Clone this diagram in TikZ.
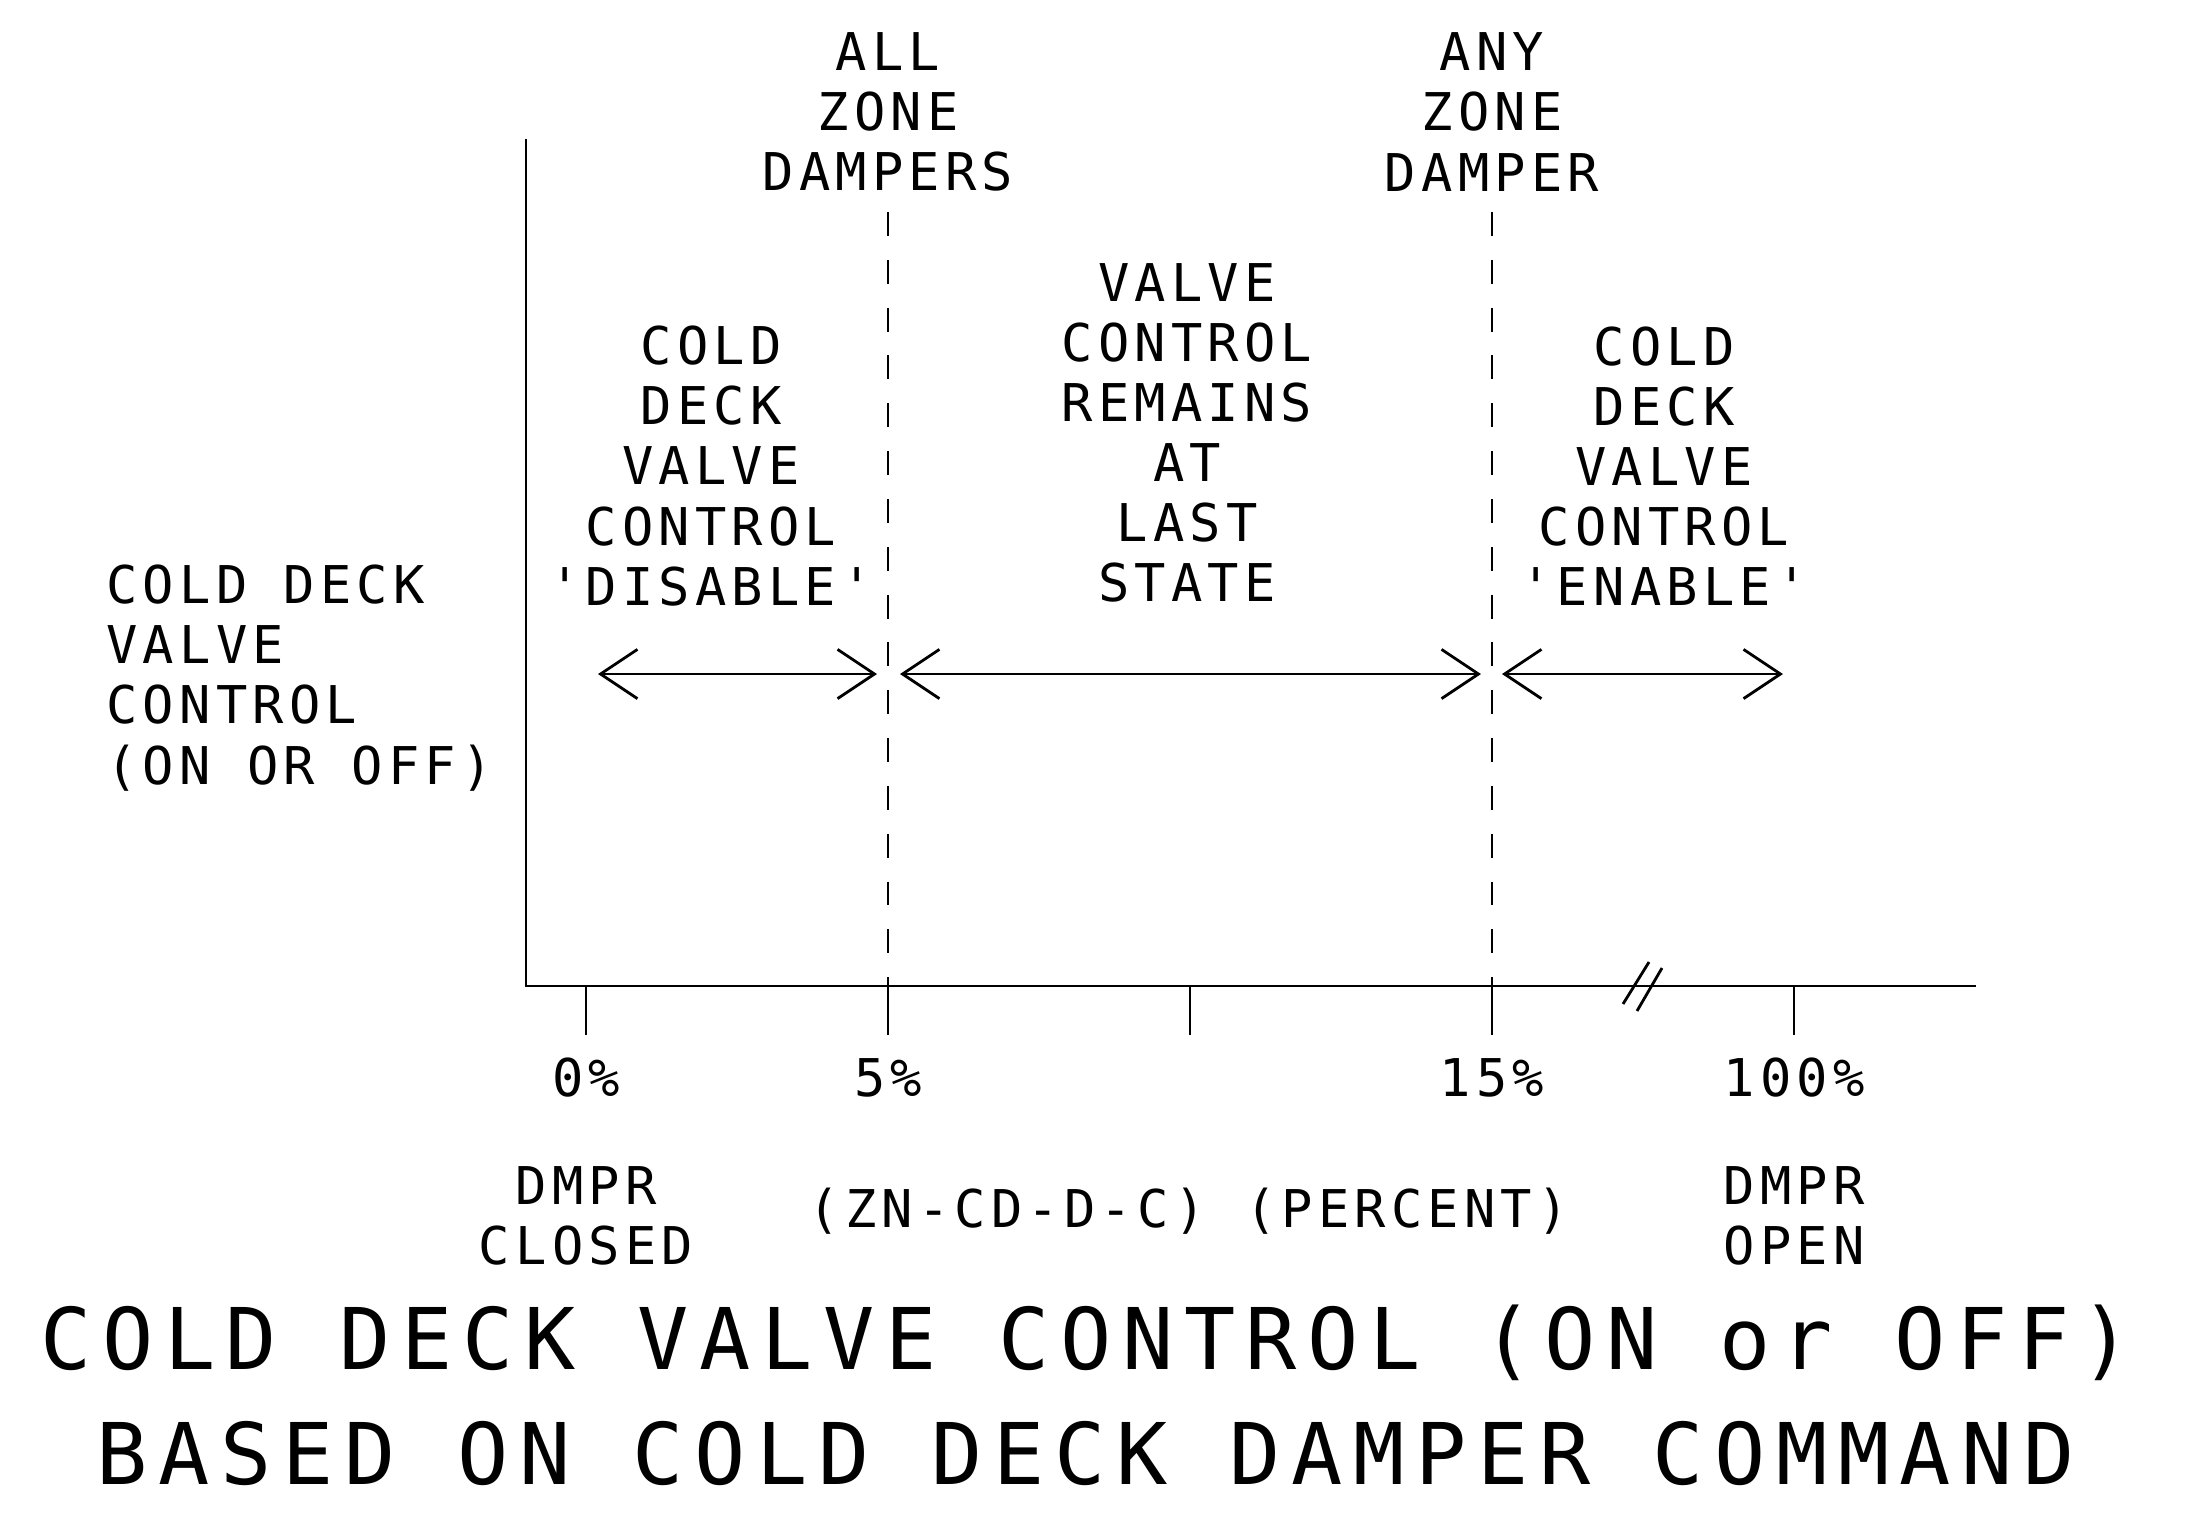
\documentclass[tikz,border=0pt]{standalone}
\usepackage{fontspec}
\newfontfamily\cadfont[LetterSpace=10]{DejaVu Sans Mono}
\newfontfamily\cadtitle[LetterSpace=12.5]{DejaVu Sans Mono}
\usetikzlibrary{arrows.meta}

\tikzset{
  lbl/.style={inner sep=0pt, align=center, font=\cadfont\fontsize{14.8}{17.1}\selectfont},
  ttl/.style={inner sep=0pt, font=\cadtitle\fontsize{24.2}{30}\selectfont},
  dimarrow/.style={{Straight Barb[length=10.5pt,width=14pt]}-{Straight Barb[length=10.5pt,width=14pt]}},
  guide/.style={dash pattern=on 6.8pt off 6.8pt},
}

\begin{document}
\begin{tikzpicture}[x=0.01cm, y=-0.01cm, line width=0.8pt]
  \useasboundingbox (0,0) rectangle (2187,1520);
  % axes
  \coordinate (ytop) at (526,139);
  \coordinate (orig) at (526,986);
  \coordinate (xend) at (1976,986);
  \draw (ytop) -- (orig) -- (xend);
  \foreach \x in {586,888,1190,1492,1794}
    \draw (\x,986) -- (\x,1035);
  \draw (1623,1004) -- (1649,962);
  \draw (1637,1011) -- (1662,968);
  % limits
  \coordinate (lo) at (888,212);
  \coordinate (hi) at (1492,212);
  \draw[guide] (lo) -- (888,986);
  \draw[guide] (hi) -- (1492,986);
  \node[lbl] (allzone) at (888,112) {ALL\\ZONE\\DAMPERS};
  \node[lbl] (anyzone) at (1492,112) {ANY\\ZONE\\DAMPER};
  % ranges
  \coordinate (a0) at (598,674);
  \coordinate (a1) at (877,674);
  \coordinate (b0) at (900,674);
  \coordinate (b1) at (1481,674);
  \coordinate (c0) at (1502,674);
  \coordinate (c1) at (1783,674);
  \draw[dimarrow] (a0) -- (a1);
  \draw[dimarrow] (b0) -- (b1);
  \draw[dimarrow] (c0) -- (c1);
  \node[lbl] (disable) at (711,466) {COLD\\DECK\\VALVE\\CONTROL\\'DISABLE'};
  \node[lbl] (remain) at (1187,433) {VALVE\\CONTROL\\REMAINS\\AT\\LAST\\STATE};
  \node[lbl] (enable) at (1664,466) {COLD\\DECK\\VALVE\\CONTROL\\'ENABLE'};
  \node[lbl, align=left, anchor=west] (yname) at (105,678) {COLD DECK\\VALVE\\CONTROL\\(ON OR OFF)};
  % scale
  \node[lbl] (p0) at (586,1078) {0\%};
  \node[lbl] (p5) at (888,1078) {5\%};
  \node[lbl] (p15) at (1492,1078) {15\%};
  \node[lbl] (p100) at (1794,1078) {100\%};
  \node[lbl] (closed) at (586,1216) {DMPR\\CLOSED};
  \node[lbl] (open) at (1794,1216) {DMPR\\OPEN};
  \node[lbl] (xname) at (1007,1211) {(ZN-CD-D-C)};
  \node[lbl] (unit) at (1407,1211) {(PERCENT)};
  % title
  \node[ttl] (title1) at (1086,1343) {COLD DECK VALVE CONTROL (ON or OFF)};
  \node[ttl] (title2) at (1086,1453) {BASED ON COLD DECK DAMPER COMMAND};
\end{tikzpicture}
\end{document}
